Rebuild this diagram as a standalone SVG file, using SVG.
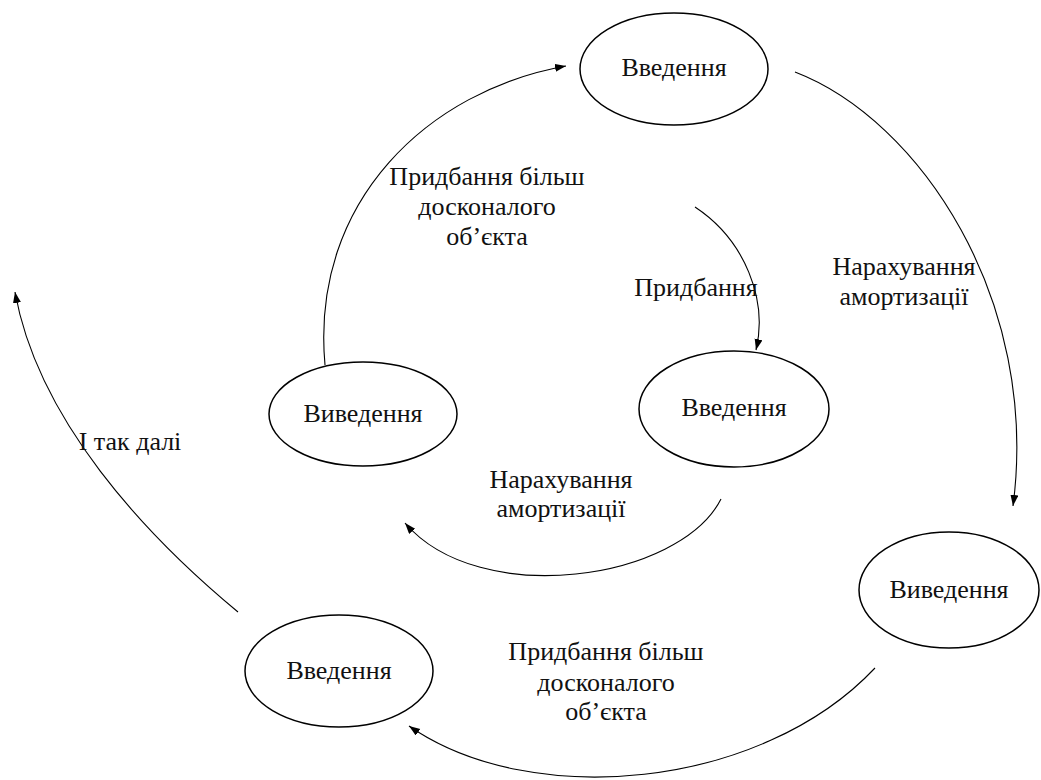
<svg xmlns="http://www.w3.org/2000/svg" width="1041" height="780" viewBox="0 0 1041 780">
<style>
.n{fill:none;stroke:#000;stroke-width:1.5}
.c{fill:none;stroke:#000;stroke-width:1.1}
text{font-family:'Liberation Serif','DejaVu Serif',serif;font-size:26px;fill:#111;text-anchor:middle}
</style>
<defs>
<marker id="ah" markerUnits="userSpaceOnUse" markerWidth="12" markerHeight="10" refX="11" refY="4" orient="auto">
<path d="M0,0 L11,4 L0,8 Z" fill="#000"/>
</marker>
</defs>
<rect width="1041" height="780" fill="#fff"/>
<g id="connectors">
<path class="c" marker-end="url(#ah)" d="M795,72 C920,120 1040,300 1013,506"/>
<path class="c" marker-end="url(#ah)" d="M695,207 C745,240 768,300 756,350"/>
<path class="c" marker-end="url(#ah)" d="M721,499 C680,580 480,610 405,523"/>
<path class="c" marker-end="url(#ah)" d="M325,365 C310,200 430,90 566,66"/>
<path class="c" marker-end="url(#ah)" d="M875,668 C760,790 530,810 409,726"/>
<path class="c" marker-end="url(#ah)" d="M238,612 C145,535 38,420 15,292"/>
</g>
<g id="labels">
<text x="487" y="185">Придбання більш</text>
<text x="487" y="215">досконалого</text>
<text x="487" y="245">об’єкта</text>
<text x="696" y="296">Придбання</text>
<text x="904" y="275">Нарахування</text>
<text x="904" y="305">амортизації</text>
<text x="561" y="488">Нарахування</text>
<text x="561" y="517">амортизації</text>
<text x="606" y="660">Придбання більш</text>
<text x="606" y="691">досконалого</text>
<text x="606" y="720">об’єкта</text>
<text x="130" y="450">І так далі</text>
</g>
<g id="n1"><ellipse class="n" cx="674" cy="69" rx="94" ry="56"/><text x="674" y="76">Введення</text></g>
<g id="n2"><ellipse class="n" cx="363" cy="414" rx="94" ry="52"/><text x="363" y="422">Виведення</text></g>
<g id="n3"><ellipse class="n" cx="734" cy="409" rx="95" ry="58"/><text x="734" y="416">Введення</text></g>
<g id="n4"><ellipse class="n" cx="949" cy="590" rx="90" ry="58"/><text x="949" y="598">Виведення</text></g>
<g id="n5"><ellipse class="n" cx="339" cy="671" rx="94" ry="56"/><text x="339" y="679">Введення</text></g>
</svg>
